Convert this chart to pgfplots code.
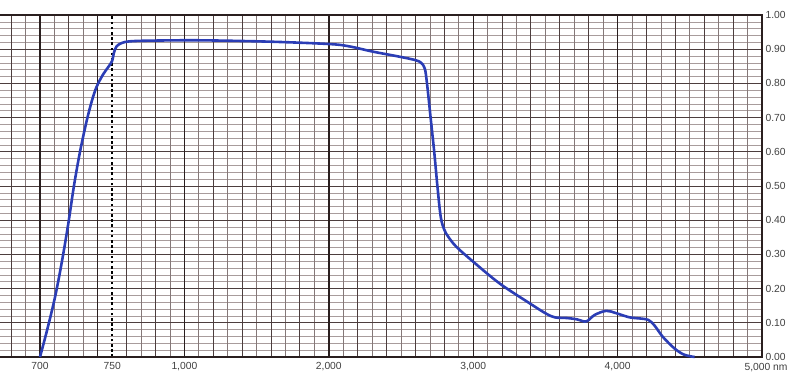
\documentclass[border=0pt]{standalone}
\usepackage{fontspec}
\setmainfont{Liberation Sans}
\usepackage{pgfplots}
\pgfplotsset{compat=1.18}
\definecolor{curve}{HTML}{2B3DB5}
\definecolor{gheavy}{HTML}{2A1F1F}
\definecolor{gmed}{HTML}{4D3E3E}
\definecolor{gthin}{HTML}{857878}
\definecolor{glight}{HTML}{A89C9C}
\definecolor{lbl}{HTML}{404040}
\begin{document}
\begin{tikzpicture}
\useasboundingbox (0pt,0pt) rectangle (800pt,381pt);
\begin{axis}[
  at={(0pt,24pt)}, anchor=south west, scale only axis,
  width=762pt, height=342pt,
  xmin=-2.77, xmax=50, ymin=0, ymax=1,
  axis line style={draw=none},
  xtick={0,5,10,20,30,40,50},
  xticklabels={700,750,{1,000},{2,000},{3,000},{4,000},{}},
  ytick={0,0.1,0.2,0.3,0.4,0.5,0.6,0.7,0.8,0.9,1},
  yticklabels={0.00,0.10,0.20,0.30,0.40,0.50,0.60,0.70,0.80,0.90,1.00},
  yticklabel pos=right,
  major tick length=0pt,
  tick label style={font=\fontsize{10.3}{12}\selectfont, text=lbl},
  xticklabel style={yshift=-1.5pt},
  yticklabel style={xshift=0pt},
  clip=false,
]
% minor horizontal lines
\pgfplotsinvokeforeach{0.02,0.04,0.06,0.08,0.12,0.14,0.16,0.18,0.22,0.24,0.26,0.28,0.32,0.34,0.36,0.38,0.42,0.44,0.46,0.48,0.52,0.54,0.56,0.58,0.62,0.64,0.66,0.68,0.72,0.74,0.76,0.78,0.82,0.84,0.86,0.88,0.92,0.94,0.96,0.98}{
  \draw[glight, line width=0.6pt] (axis cs:-2.77,#1) -- (axis cs:50,#1);}
% thin vertical lines
\pgfplotsinvokeforeach{-1,1,3,7,9,11,13,15,17,19,21,23,25,27,29,31,33,35,37,39,41,43,45,47,49}{
  \draw[gthin, line width=0.7pt] (axis cs:#1,0) -- (axis cs:#1,1);}
% medium vertical lines
\pgfplotsinvokeforeach{-2,2,6,8,12,14,16,18,22,24,26,28,32,34,36,38,42,44,46,48}{
  \draw[gmed, line width=1pt] (axis cs:#1,0) -- (axis cs:#1,1);}
% major horizontal lines
\pgfplotsinvokeforeach{0.1,0.2,0.3,0.4,0.5,0.6,0.7,0.8,0.9}{
  \draw[gmed, line width=1pt] (axis cs:-2.77,#1) -- (axis cs:50,#1);}
% heavy vertical lines
\pgfplotsinvokeforeach{0,4,10,20,30,40}{
  \draw[gheavy, line width=1.4pt] (axis cs:#1,0) -- (axis cs:#1,1);}
% dotted 750 nm line
\draw[black, line width=2pt, dash pattern=on 2.6pt off 2.6pt] (axis cs:5,0) -- (axis cs:5,1);
% frame
\draw[gheavy, line width=1.4pt] (axis cs:-2.77,1) -- (axis cs:50,1) -- (axis cs:50,0) -- (axis cs:-2.77,0);
% last x label
\node[anchor=north, font=\fontsize{10.3}{12}\selectfont, text=lbl, inner sep=3.33pt, yshift=-2.5pt, xshift=4pt] at (axis cs:50,0) {5,000 nm};
% transmission curve
\addplot[curve, line width=2.6pt, smooth, tension=0.55] coordinates {
(0,0) (0.5,0.08) (1.04,0.175) (1.50,0.275) (1.96,0.39) (2.35,0.50)
(2.77,0.600) (3.23,0.69) (3.60,0.75) (3.92,0.79) (4.35,0.825) (4.73,0.848)
(5.00,0.866) (5.12,0.89) (5.30,0.908) (5.65,0.918)
(6.23,0.923) (7.61,0.925) (11.07,0.926) (15.92,0.922) (20.07,0.915)
(21.45,0.908) (23.04,0.893) (24.91,0.878) (26.00,0.868) (26.40,0.860) (26.65,0.843)
(26.80,0.80) (27.05,0.70) (27.30,0.60) (27.52,0.50) (27.75,0.41)
(28.00,0.372) (28.30,0.350) (28.84,0.322) (29.99,0.279) (31.83,0.215)
(33.91,0.157) (35.00,0.128) (35.64,0.116) (36.50,0.114) (37.20,0.110) (37.83,0.104) (38.41,0.123)
(39.22,0.135) (39.91,0.128) (40.83,0.116) (41.70,0.112) (42.15,0.108) (42.56,0.092)
(43.13,0.059) (43.94,0.025) (44.60,0.007) (45.33,0.0)
};
\end{axis}
\end{tikzpicture}
\end{document}
